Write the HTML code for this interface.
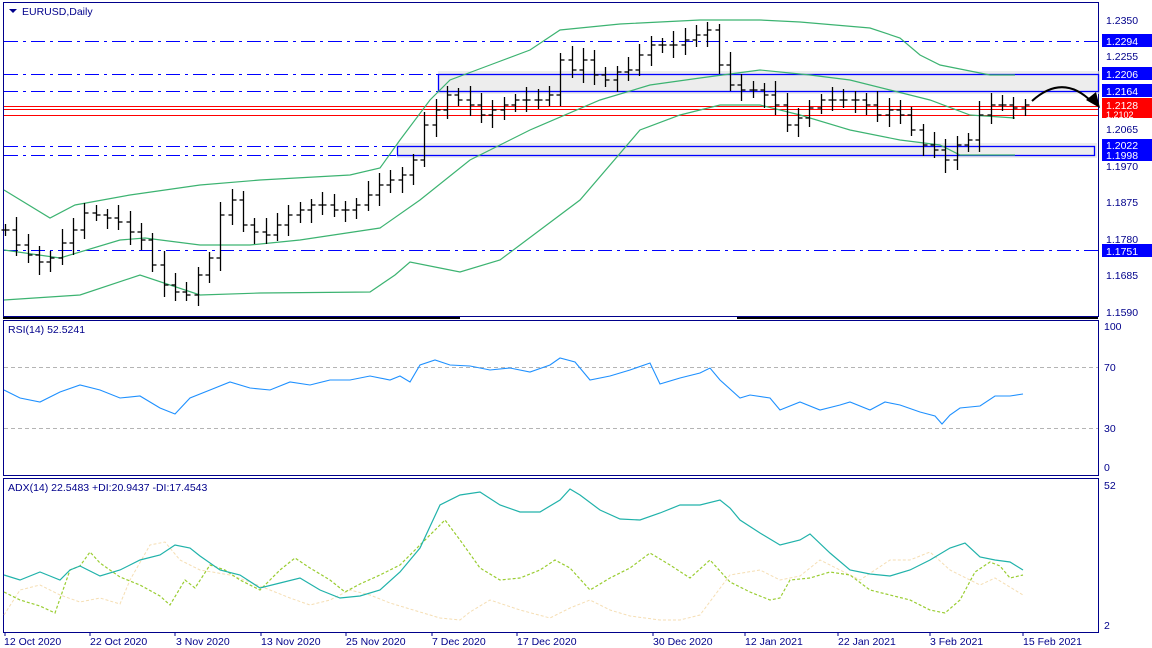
<!DOCTYPE html>
<html><head><meta charset="utf-8"><style>
html,body{margin:0;padding:0;background:#fff;width:1152px;height:648px;overflow:hidden}
svg{display:block;font-family:"Liberation Sans",sans-serif}
</style></head><body>
<svg id="s" width="1152" height="648" xmlns="http://www.w3.org/2000/svg">
<rect x="0" y="0" width="1152" height="648" fill="#fff"/>
<!-- panels -->
<rect x="3.5" y="2.5" width="1095" height="314" fill="none" stroke="#00008b"/>
<rect x="3.5" y="320.5" width="1095" height="155" fill="none" stroke="#00008b"/>
<rect x="3.5" y="478.5" width="1095" height="154" fill="none" stroke="#00008b"/>
<line x1="3" y1="318" x2="460" y2="318" stroke="#000" stroke-width="2"/>
<line x1="737" y1="318" x2="1098" y2="318" stroke="#000" stroke-width="2"/>
<!-- boxes -->
<rect x="438" y="71" width="662" height="23" fill="#e6e6e6" opacity=".7"/>
<rect x="438.5" y="74.5" width="660" height="17" fill="none" stroke="#0000ff" stroke-width="1.3"/>
<rect x="397" y="143" width="700" height="15" fill="#e6e6e6" opacity=".7"/>
<rect x="397.5" y="146.5" width="697" height="9" fill="none" stroke="#0000ff" stroke-width="1.3"/>
<g stroke="#0000ff" stroke-dasharray="14,5,3,5" stroke-width="1">
<line x1="4" y1="41.5" x2="1098" y2="41.5"/>
<line x1="4" y1="74.5" x2="438" y2="74.5"/>
<line x1="4" y1="91.5" x2="438" y2="91.5"/>
<line x1="4" y1="146.5" x2="397" y2="146.5"/>
<line x1="4" y1="155.5" x2="397" y2="155.5"/>
<line x1="4" y1="250.5" x2="1098" y2="250.5"/>
</g>
<g stroke="#ff0000" stroke-width="1">
<line x1="4" y1="106.5" x2="1098" y2="106.5"/>
<line x1="4" y1="109.5" x2="1098" y2="109.5"/>
<line x1="4" y1="115.5" x2="1098" y2="115.5"/>
</g>
<!-- bollinger -->
<g fill="none" stroke="#3cb371" stroke-width="1.2">
<polyline points="4,190 50,218 75,205 130,195 200,185 260,180 350,175 380,168 400,140 430,100 450,80 490,65 530,50 560,30 620,24 700,20 760,20 800,22 870,28 900,38 920,55 940,65 990,75 1015,75"/>
<polyline points="4,250 60,258 120,240 145,238 200,245 250,245 300,240 380,228 420,200 470,160 530,130 600,100 650,85 700,78 760,70 810,75 850,80 890,90 930,100 970,115 1015,118"/>
<polyline points="4,300 80,295 140,275 200,295 260,293 370,292 395,275 410,262 440,268 460,272 500,260 580,200 640,130 680,115 720,105 760,105 800,115 850,130 900,140 940,145 960,155 1015,155"/>
</g>
<g id="bars" stroke="#000" stroke-width="1.3"></g>
<!-- arrow -->
<path d="M1032,101 C1055,80 1075,85 1092,102" fill="none" stroke="#000" stroke-width="2"/>
<polygon points="1086,100 1100,108 1096,92" fill="#000"/>
<!-- right axis -->
<g font-size="10.5" fill="#00008b">
<text x="1106" y="24">1.2350</text>
<text x="1106" y="60">1.2255</text>
<text x="1106" y="133">1.2065</text>
<text x="1106" y="170">1.1970</text>
<text x="1106" y="206">1.1875</text>
<text x="1106" y="243">1.1780</text>
<text x="1106" y="279">1.1685</text>
<text x="1106" y="316">1.1590</text>
</g>
<g font-size="10.5" fill="#fff">
<rect x="1102" y="34" width="50" height="13" fill="#0000ff"/><text x="1106" y="45">1.2294</text>
<rect x="1102" y="67" width="50" height="13" fill="#0000ff"/><text x="1106" y="78">1.2206</text>
<rect x="1102" y="84" width="50" height="13" fill="#0000ff"/><text x="1106" y="95">1.2164</text>
<rect x="1102" y="98" width="50" height="20" fill="#ff0000"/><text x="1106" y="109">1.2128</text><text x="1106" y="118" font-size="9">1.2102</text>
<rect x="1102" y="139" width="50" height="22" fill="#0000ff"/><text x="1106" y="149">1.2022</text><text x="1106" y="159">1.1998</text>
<rect x="1102" y="244" width="50" height="13" fill="#0000ff"/><text x="1106" y="255">1.1751</text>
</g>
<text x="22" y="15" font-size="10.5" fill="#00008b">EURUSD,Daily</text>
<polygon points="9,9 17,9 13,13" fill="#00008b"/>
<!-- RSI -->
<g stroke="#b4b4b4" stroke-dasharray="4,3"><line x1="4" y1="367.5" x2="1098" y2="367.5"/><line x1="4" y1="428.5" x2="1098" y2="428.5"/></g>
<polyline fill="none" stroke="#1e90ff" stroke-width="1.1" points="4,390 20,398 40,402 60,392 80,385 100,390 120,398 140,396 160,408 175,414 190,398 210,390 230,382 250,388 270,390 290,382 310,385 330,380 350,380 370,376 390,380 400,376 410,382 420,365 435,360 450,365 470,366 490,370 510,368 530,372 550,365 560,358 575,362 590,380 610,376 630,370 650,363 660,384 680,378 700,373 710,368 720,380 740,398 750,395 770,398 780,410 800,402 820,410 840,405 850,402 870,410 885,402 900,405 920,412 935,416 942,424 950,415 960,408 980,406 995,396 1010,396 1023,394"/>
<g font-size="10.5" fill="#00008b">
<text x="8" y="333">RSI(14) 52.5241</text>
<text x="1104" y="330">100</text><text x="1104" y="371">70</text><text x="1104" y="432">30</text><text x="1104" y="471">0</text>
<text x="8" y="491">ADX(14) 22.5483 +DI:20.9437 -DI:17.4543</text>
<text x="1104" y="489">52</text><text x="1104" y="629">2</text>
</g>
<!-- ADX -->
<polyline fill="none" stroke="#f5deb3" stroke-width="1" stroke-dasharray="3,2" points="4,615 20,590 40,585 60,595 80,602 100,598 120,604 130,580 150,545 165,542 180,560 200,570 230,575 250,582 270,590 290,598 310,605 330,600 350,590 370,595 390,603 420,612 440,618 460,620 470,612 490,600 520,610 550,618 570,608 590,600 610,610 630,616 660,620 680,620 700,615 730,575 760,570 780,580 800,576 820,560 840,570 860,580 890,560 910,560 930,552 950,570 980,585 995,578 1023,595"/>
<polyline fill="none" stroke="#9acd32" stroke-width="1.2" stroke-dasharray="3,2" points="4,592 20,600 40,606 55,613 70,570 80,566 90,552 100,563 120,577 140,585 160,596 170,605 185,580 195,588 210,565 225,570 240,580 260,590 280,570 295,558 310,568 330,580 345,592 360,584 380,575 400,565 420,545 445,520 460,540 480,568 500,580 520,578 540,570 555,560 570,568 590,590 610,578 630,568 650,553 670,565 690,578 710,560 730,582 750,592 770,600 780,598 790,580 810,578 830,572 850,575 870,590 890,595 910,600 930,610 945,613 960,600 975,572 990,562 1000,566 1010,578 1023,575"/>
<polyline fill="none" stroke="#20b2aa" stroke-width="1.2" points="4,575 20,580 40,572 50,576 60,580 70,570 80,566 100,576 120,570 140,560 160,555 175,545 190,548 200,556 220,570 240,575 260,588 280,583 300,578 320,590 340,598 360,596 380,590 400,572 420,548 440,505 460,495 480,492 500,505 520,512 540,512 560,500 570,489 580,495 600,510 620,519 640,520 660,513 680,505 700,505 720,500 730,508 740,520 760,533 780,545 800,540 810,534 830,553 850,570 870,574 890,576 910,570 930,560 950,548 965,543 980,557 995,560 1010,562 1023,570"/>
<!-- date axis -->
<g stroke="#00008b"><line x1="5" y1="632" x2="5" y2="636"/><line x1="90" y1="632" x2="90" y2="636"/><line x1="175" y1="632" x2="175" y2="636"/><line x1="261" y1="632" x2="261" y2="636"/><line x1="346" y1="632" x2="346" y2="636"/><line x1="432" y1="632" x2="432" y2="636"/><line x1="517" y1="632" x2="517" y2="636"/><line x1="653" y1="632" x2="653" y2="636"/><line x1="745" y1="632" x2="745" y2="636"/><line x1="838" y1="632" x2="838" y2="636"/><line x1="930" y1="632" x2="930" y2="636"/><line x1="1023" y1="632" x2="1023" y2="636"/></g>
<g font-size="10.5" fill="#00008b">
<text x="4" y="645">12 Oct 2020</text><text x="90" y="645">22 Oct 2020</text><text x="176" y="645">3 Nov 2020</text><text x="261" y="645">13 Nov 2020</text><text x="346" y="645">25 Nov 2020</text><text x="432" y="645">7 Dec 2020</text><text x="517" y="645">17 Dec 2020</text><text x="653" y="645">30 Dec 2020</text><text x="745" y="645">12 Jan 2021</text><text x="838" y="645">22 Jan 2021</text><text x="930" y="645">3 Feb 2021</text><text x="1023" y="645">15 Feb 2021</text>
</g>
</svg>
<script>
var c=[230,245,255,262,258,243,230,213,215,218,222,232,240,265,285,292,295,275,258,215,200,225,232,235,225,215,210,205,205,210,210,205,195,185,180,175,160,125,110,95,100,105,115,110,105,100,100,100,95,60,70,60,75,80,72,70,55,45,45,45,40,35,30,65,85,90,90,95,105,125,118,108,100,100,100,100,105,115,110,115,130,145,150,160,145,140,115,105,105,108,105];
var g=document.getElementById('bars'),ns='http://www.w3.org/2000/svg',s='';
var prev=c[0];
for(var i=0;i<c.length;i++){
 var x=5+i*11.33,o=prev,cl=c[i];
 var hi=Math.min(o,cl)-6-(i*7%9),lo=Math.max(o,cl)+6+(i*5%8);
 x=Math.round(x)+.5;
 s+='<line x1="'+x+'" y1="'+hi+'" x2="'+x+'" y2="'+lo+'"/>';
 s+='<line x1="'+(x-4)+'" y1="'+o+'" x2="'+x+'" y2="'+o+'"/>';
 s+='<line x1="'+x+'" y1="'+cl+'" x2="'+(x+4)+'" y2="'+cl+'"/>';
 prev=cl;
}
g.innerHTML=s;
</script>
</body></html>
